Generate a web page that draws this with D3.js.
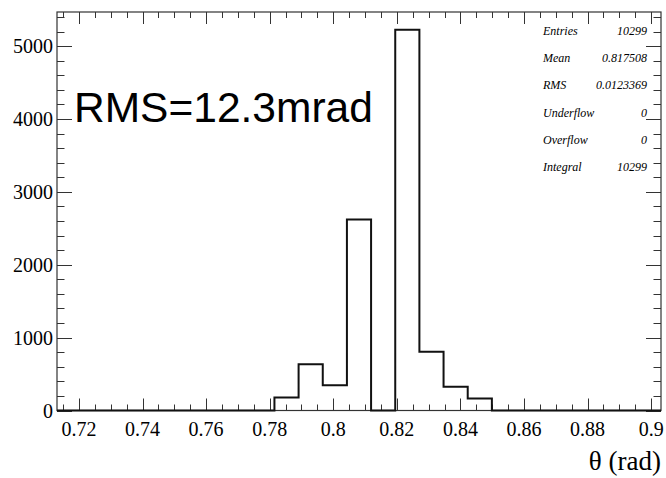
<!DOCTYPE html>
<html>
<head>
<meta charset="utf-8">
<script src="https://cdn.jsdelivr.net/npm/d3@7"></script>
<style>
  body { margin: 0; background: #fff; }
  svg { display: block; }
  .tick-label { font-family: "Liberation Serif", "Times New Roman", serif; font-size: 20px; fill: #000; }
  .stats { font-family: "Liberation Serif", "Times New Roman", serif; font-style: italic; font-size: 12px; fill: #000; }
</style>
</head>
<body>
<div id="chart"></div>
<script>
// Histogram definition (25 bins)
var histMin = 0.7131;
var histMax = 0.9031;
var binCounts = [0, 0, 0, 0, 0, 0, 0, 0, 0, 180, 635, 345, 2620, 0, 5225, 805, 325, 164, 0, 0, 0, 0, 0, 0, 0];

// Axis ticks
var xTickValues = [0.72, 0.74, 0.76, 0.78, 0.8, 0.82, 0.84, 0.86, 0.88, 0.9];
var xTickLabels = ["0.72", "0.74", "0.76", "0.78", "0.8", "0.82", "0.84", "0.86", "0.88", "0.9"];
var yTickValues = [0, 1000, 2000, 3000, 4000, 5000];

// Stats box
var statNames = ["Entries", "Mean", "RMS", "Underflow", "Overflow", "Integral"];
var statValues = ["10299", "0.817508", "0.0123369", "0", "0", "10299"];

var svgWidth = 666;
var svgHeight = 478;

var frame = { left: 57, right: 661, top: 12, bottom: 410.5 };

var svg = d3.select("#chart")
    .append("svg")
    .attr("width", svgWidth)
    .attr("height", svgHeight);

var xScale = d3.scaleLinear().domain([histMin, histMax]).range([frame.left, frame.right]);
var yScale = d3.scaleLinear().domain([0, 5469]).range([frame.bottom, frame.top]);

// minor ticks
var xMinor = d3.range(0.715, 0.9031, 0.005).filter(function (v) {
    return xTickValues.every(function (t) { return Math.abs(t - v) > 1e-6; });
});
var yMinor = d3.range(0, 5469, 200).filter(function (v) { return v % 1000 !== 0; });

function drawTicks(values, len, orient) {
    var g = svg.append("g").attr("stroke", "#333").attr("stroke-width", 1);
    values.forEach(function (v) {
        if (orient === "bottom") {
            var x = Math.round(xScale(v)) + 0.5;
            g.append("line").attr("x1", x).attr("x2", x).attr("y1", frame.bottom).attr("y2", frame.bottom - len);
        } else if (orient === "top") {
            var x2 = Math.round(xScale(v)) + 0.5;
            g.append("line").attr("x1", x2).attr("x2", x2).attr("y1", frame.top).attr("y2", frame.top + len);
        } else if (orient === "left") {
            var y = Math.round(yScale(v)) + 0.5;
            g.append("line").attr("x1", frame.left).attr("x2", frame.left + len).attr("y1", y).attr("y2", y);
        } else {
            var y2 = Math.round(yScale(v)) + 0.5;
            g.append("line").attr("x1", frame.right).attr("x2", frame.right - len).attr("y1", y2).attr("y2", y2);
        }
    });
}

drawTicks(xTickValues, 12, "bottom");
drawTicks(xMinor, 6, "bottom");
drawTicks(xTickValues, 12, "top");
drawTicks(xMinor, 6, "top");
drawTicks(yTickValues, 15, "left");
drawTicks(yMinor, 7.5, "left");
drawTicks(yTickValues, 15, "right");
drawTicks(yMinor, 7.5, "right");

// frame
svg.append("rect")
    .attr("x", frame.left)
    .attr("y", frame.top)
    .attr("width", frame.right - frame.left)
    .attr("height", frame.bottom - frame.top)
    .attr("fill", "none")
    .attr("stroke", "#333")
    .attr("stroke-width", 1.2);

// histogram outline
var binWidth = (histMax - histMin) / binCounts.length;
var points = binCounts.map(function (c, i) { return [histMin + i * binWidth, c]; });
points.push([histMax, 0]);

var line = d3.line()
    .x(function (d) { return xScale(d[0]); })
    .y(function (d) { return yScale(d[1]); })
    .curve(d3.curveStepAfter);

svg.append("path")
    .datum(points)
    .attr("d", line)
    .attr("fill", "none")
    .attr("stroke", "#111")
    .attr("stroke-width", 2);

// tick labels
svg.append("g").selectAll("text")
    .data(xTickValues)
    .enter()
    .append("text")
    .attr("class", "tick-label")
    .attr("x", function (d) { return xScale(d); })
    .attr("y", 436)
    .attr("text-anchor", "middle")
    .text(function (d, i) { return xTickLabels[i]; });

svg.append("g").selectAll("text")
    .data(yTickValues)
    .enter()
    .append("text")
    .attr("class", "tick-label")
    .attr("x", 53)
    .attr("y", function (d) { return yScale(d) + 7; })
    .attr("text-anchor", "end")
    .text(function (d) { return d; });

// axis title
svg.append("text")
    .attr("x", 661)
    .attr("y", 470)
    .attr("text-anchor", "end")
    .style("font-family", "'Liberation Serif', 'Times New Roman', serif")
    .style("font-size", "27px")
    .text("θ (rad)");

// stats box
var statRows = svg.append("g");
statNames.forEach(function (name, i) {
    var y = 35 + i * 27.2;
    statRows.append("text").attr("class", "stats").attr("x", 543).attr("y", y).text(name);
    statRows.append("text").attr("class", "stats").attr("x", 647).attr("y", y)
        .attr("text-anchor", "end").text(statValues[i]);
});

// annotation
svg.append("text")
    .attr("x", 74)
    .attr("y", 122)
    .style("font-family", "'Liberation Sans', Arial, sans-serif")
    .style("font-size", "42.5px")
    .text("RMS=12.3mrad");
</script>
</body>
</html>
